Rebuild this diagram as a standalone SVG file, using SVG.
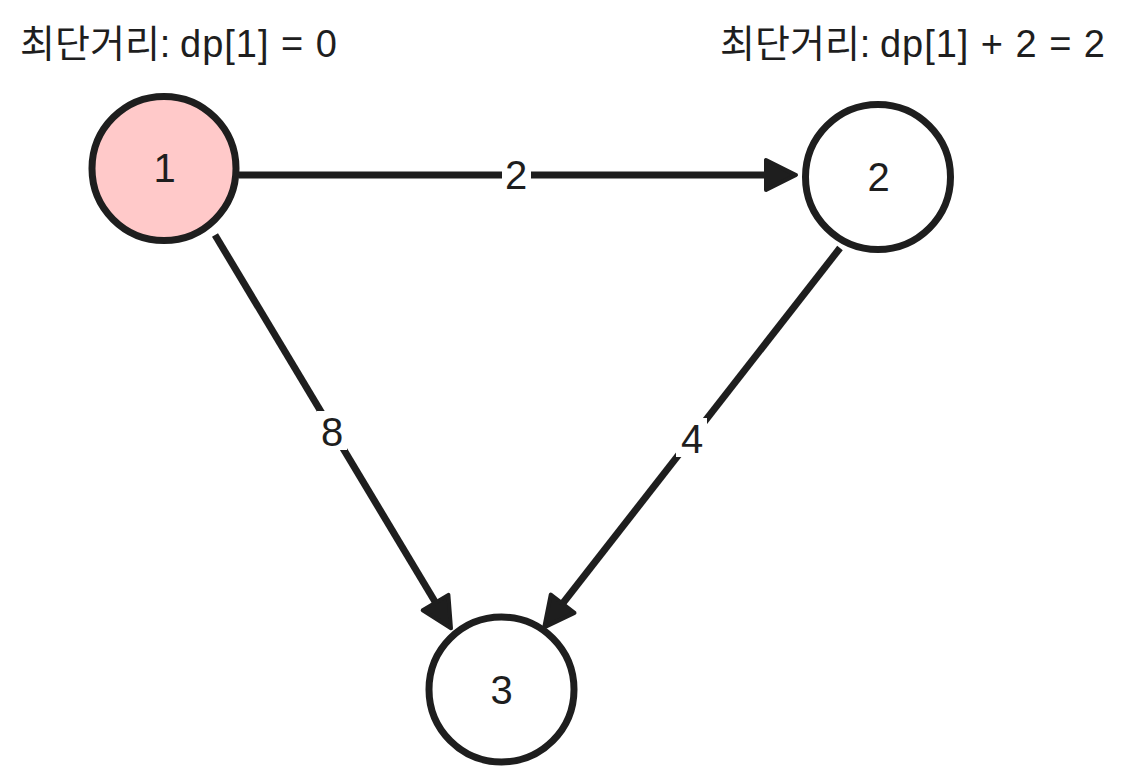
<svg xmlns="http://www.w3.org/2000/svg" width="1125" height="784" viewBox="0 0 1125 784">
<style>
.node{stroke:#1e1e1e;stroke-width:7;}
.edge{stroke:#1e1e1e;stroke-width:7;fill:none;}
.head{fill:#1e1e1e;stroke:#1e1e1e;stroke-width:4;stroke-linejoin:round;}
.t{font-family:"Liberation Sans","Noto Sans CJK KR",sans-serif;fill:#1e1e1e;}
.title{font-size:38px;}
.nl{font-size:40px;text-anchor:middle;}
.el{font-size:40px;text-anchor:middle;}
.bg{fill:#ffffff;}
</style>
<rect width="1125" height="784" fill="#ffffff"/>
<g id="connectors">
  <g id="e1-2">
    <line class="edge" x1="239" y1="175" x2="770" y2="175"/>
    <polygon class="head" points="796,175 766,160 766,190"/>
    <rect class="bg" x="502" y="157" width="29" height="36"/>
    <text class="t el" x="516" y="188.5">2</text>
  </g>
  <g id="e1-3">
    <line class="edge" x1="215" y1="235" x2="440" y2="610"/>
    <polygon class="head" points="451,628.3 422.7,610.3 448.4,594.9"/>
    <rect class="bg" x="317" y="411" width="30" height="39"/>
    <text class="t el" x="332" y="446">8</text>
  </g>
  <g id="e2-3">
    <line class="edge" x1="840" y1="248" x2="556" y2="612"/>
    <polygon class="head" points="544.2,627.4 574.5,612.9 550.8,594.5"/>
    <rect class="bg" x="676" y="418" width="31" height="39"/>
    <text class="t el" x="692" y="453">4</text>
  </g>
</g>
<g id="node1">
  <circle class="node" cx="164" cy="168.5" r="72" fill="#ffc9c9"/>
  <text class="t nl" x="164.5" y="182.3">1</text>
</g>
<g id="node2">
  <circle class="node" cx="878" cy="177" r="72.5" fill="#ffffff"/>
  <text class="t nl" x="878.5" y="191">2</text>
</g>
<g id="node3">
  <circle class="node" cx="501.5" cy="689.5" r="72.5" fill="#ffffff"/>
  <text class="t nl" x="501.5" y="704">3</text>
</g>
<g id="label1">
  <text class="t title" y="57"><tspan x="20">최단거리:</tspan><tspan x="180" textLength="157" lengthAdjust="spacing">dp[1] = 0</tspan></text>
</g>
<g id="label2">
  <text class="t title" y="57"><tspan x="720">최단거리:</tspan><tspan x="880" textLength="225" lengthAdjust="spacing">dp[1] + 2 = 2</tspan></text>
</g>
</svg>
